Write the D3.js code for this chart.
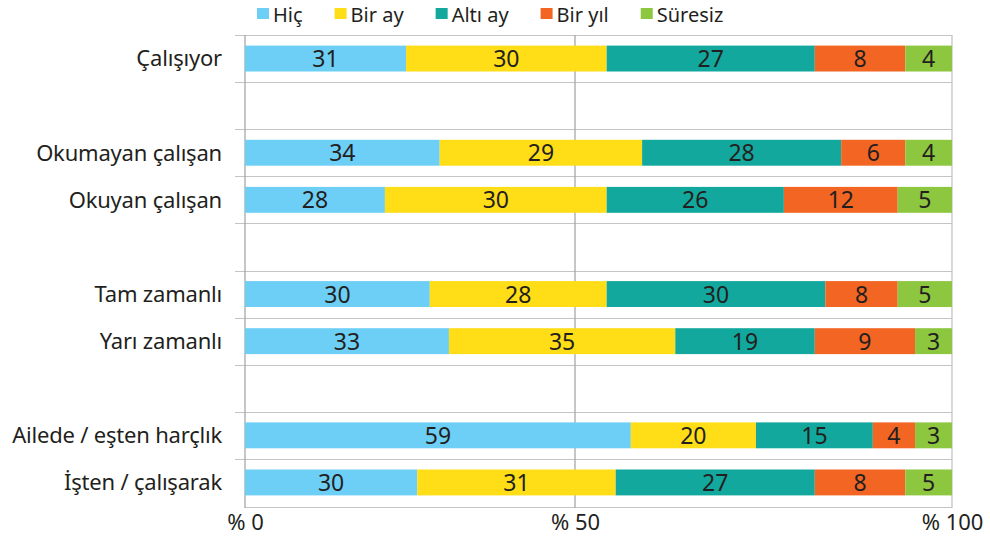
<!DOCTYPE html>
<html>
<head>
<meta charset="utf-8">
<script src="https://cdn.jsdelivr.net/npm/d3@7"></script>
<style>
	body { margin: 0; background: #fff; }
	text { font-family: "Noto Sans", "Open Sans", sans-serif; fill: #231f20; }
</style>
</head>
<body>
<svg id="chart" width="990" height="544"></svg>
<script>
// rows top to bottom, '' = empty spacer row
var categories = ['Çalışıyor', '', 'Okumayan çalışan', 'Okuyan çalışan', '', 'Tam zamanlı', 'Yarı zamanlı', '', 'Ailede / eşten harçlık', 'İşten / çalışarak'];
var series = ['Hiç', 'Bir ay', 'Altı ay', 'Bir yıl', 'Süresiz'];
var colors = ['#6dcff6', '#ffdd17', '#12a89d', '#f26522', '#8dc63f'];

// printed percentages
var hicPct     = [31, null, 34, 28, null, 30, 33, null, 59, 30];
var birAyPct   = [30, null, 29, 30, null, 28, 35, null, 20, 31];
var altiAyPct  = [27, null, 28, 26, null, 30, 19, null, 15, 27];
var birYilPct  = [8,  null, 6,  12, null, 8,  9,  null, 4,  8];
var suresizPct = [4,  null, 4,  5,  null, 5,  3,  null, 3,  5];

// drawn segment lengths as they appear on the axis
var hicShare     = [24.4, null, 29.5, 21.2, null, 28.0, 30.9, null, 57.4, 26.1];
var birAyShare   = [29.8, null, 29.4, 33.0, null, 26.2, 32.4, null, 16.6, 29.3];
var altiAyShare  = [27.6, null, 26.4, 23.5, null, 29.0, 18.5, null, 15.5, 26.4];
var birYilShare  = [12.0, null, 8.5,  15.1, null, 9.6,  13.3, null, 5.6,  12.0];
var suresizShare = [6.2,  null, 6.2,  7.2,  null, 7.2,  4.9,  null, 4.9,  6.2];

var axisTicks = [0, 50, 100];

var shares = [hicShare, birAyShare, altiAyShare, birYilShare, suresizShare];
var pcts = [hicPct, birAyPct, altiAyPct, birYilPct, suresizPct];

var svg = d3.select('#chart');

var x = d3.scaleLinear()
	.domain([0, 50, 100])
	.range([245, 575, 952]);

var y = d3.scaleBand()
	.domain(d3.range(categories.length))
	.range([35, 506])
	.paddingInner(0.45)
	.paddingOuter(0.225);

var step = y.step();

// table for d3.stack
var table = categories.map(function (c, i) {
	var row = { idx: i };
	series.forEach(function (s, k) {
		row[s] = shares[k][i] || 0;
	});
	return row;
}).filter(function (r) { return categories[r.idx] !== ''; });

var stacked = d3.stack().keys(series)(table);

///Grid
var grid = svg.append('g');
d3.range(categories.length).forEach(function (i) {
	var yy = Math.round(35 + i * step) + 0.5;
	grid.append('line')
		.attr('x1', 235).attr('x2', x(100))
		.attr('y1', yy).attr('y2', yy)
		.attr('stroke', '#c4c4c4').attr('stroke-width', 1.2);
});
grid.append('line')
	.attr('x1', x(0)).attr('x2', x(100))
	.attr('y1', 507.5).attr('y2', 507.5)
	.attr('stroke', '#c4c4c4').attr('stroke-width', 1.2);

axisTicks.forEach(function (t) {
	grid.append('line')
		.attr('x1', x(t)).attr('x2', x(t))
		.attr('y1', 35).attr('y2', 508)
		.attr('stroke', t === 100 ? '#c4c4c4' : '#a8a8a8')
		.attr('stroke-width', 1.3);
});

///Bars
var layers = svg.append('g')
	.selectAll('g')
	.data(stacked)
	.enter()
	.append('g')
	.attr('fill', function (d, k) { return colors[k]; });

layers.selectAll('rect')
	.data(function (d) { return d; })
	.enter()
	.append('rect')
	.attr('x', function (d) { return x(d[0]); })
	.attr('y', function (d) { return y(d.data.idx); })
	.attr('width', function (d) { return x(d[1]) - x(d[0]); })
	.attr('height', y.bandwidth());

///Value labels
layers.each(function (layer, k) {
	d3.select(this).selectAll('text')
		.data(layer)
		.enter()
		.append('text')
		.attr('x', function (d) { return (x(d[0]) + x(d[1])) / 2; })
		.attr('y', function (d) { return y(d.data.idx) + y.bandwidth() / 2; })
		.attr('dy', '0.37em')
		.attr('text-anchor', 'middle')
		.attr('font-size', 23)
		.text(function (d) { return pcts[k][d.data.idx]; });
});

///Category labels
svg.append('g')
	.selectAll('text')
	.data(categories)
	.enter()
	.append('text')
	.attr('x', 222)
	.attr('y', function (d, i) { return y(i) + y.bandwidth() / 2; })
	.attr('dy', '0.36em')
	.attr('text-anchor', 'end')
	.attr('font-size', 22)
	.attr('letter-spacing', -0.2)
	.text(function (d) { return d; });

///X axis labels
var xAxis = d3.axisBottom(x)
	.tickValues(axisTicks)
	.tickSize(0)
	.tickPadding(0)
	.tickFormat(function (d) { return '% ' + d; });

var axisG = svg.append('g')
	.attr('transform', 'translate(0,514)')
	.call(xAxis);
axisG.select('.domain').remove();
axisG.selectAll('text')
	.attr('font-size', 22)
	.attr('font-family', '"Noto Sans", "Open Sans", sans-serif')
	.attr('fill', '#231f20');

///Legend
var legend = svg.append('g');
var lx = 257;
series.forEach(function (s, k) {
	legend.append('rect')
		.attr('x', lx).attr('y', 8)
		.attr('width', 12).attr('height', 11)
		.attr('fill', colors[k]);
	var t = legend.append('text')
		.attr('x', lx + 16)
		.attr('y', 21.5)
		.attr('font-size', 20)
		.text(s);
	lx += 16 + t.node().getComputedTextLength() + 32;
});
</script>
</body>
</html>
